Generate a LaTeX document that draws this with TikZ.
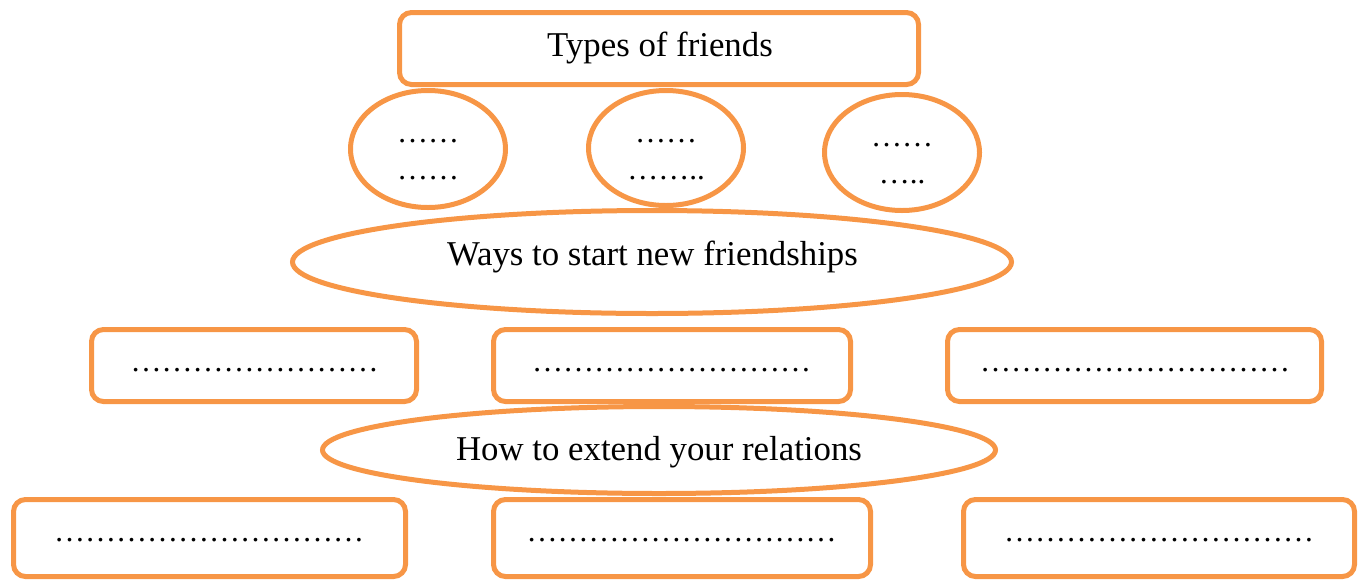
\documentclass[tikz,border=0pt]{standalone}
\usepackage{fontspec}
\setmainfont{Liberation Serif}
\usetikzlibrary{shapes.geometric}
\definecolor{accent}{HTML}{F79646}
\begin{document}
\begin{tikzpicture}[x=1pt,y=-1pt,
  frame/.style={draw=accent,line width=5pt,inner sep=0pt},
  rbox/.style={frame,rectangle,rounded corners=12pt},
  oval/.style={frame,ellipse},
  txt/.style={anchor=base,inner sep=0pt,font=\fontsize{34.8}{40}\selectfont},
  dots/.style={anchor=base,inner sep=0pt,font=\fontsize{31}{36}\selectfont},
]
\useasboundingbox (0,0) rectangle (1360,582);
% top box
\node[rbox,minimum width=519pt,minimum height=72pt] (types) at (659,48.5) {};
\node[txt] (typesT) at (660,56) {Types of friends};
% small ellipses
\node[oval,minimum width=155pt,minimum height=117pt] (e1) at (428,149) {};
\node[oval,minimum width=155pt,minimum height=115pt] (e2) at (666,148) {};
\node[oval,minimum width=155pt,minimum height=116pt] (e3) at (902,152.5) {};
\node[dots] (e1a) at (428,142) {……};
\node[dots] (e1b) at (428,179) {……};
\node[dots] (e2a) at (666,142) {……};
\node[dots] (e2b) at (666,179) {……..};
\node[dots] (e3a) at (902,146) {……};
\node[dots] (e3b) at (902,183) {…..};
% ways ellipse
\node[oval,minimum width=719pt,minimum height=103pt] (ways) at (652,262) {};
\node[txt] (waysT) at (652.5,265) {Ways to start new friendships};
% row 1 boxes
\node[rbox,minimum width=325pt,minimum height=72pt] (r1a) at (254,365.5) {};
\node[rbox,minimum width=357pt,minimum height=72pt] (r1b) at (672,365.5) {};
\node[rbox,minimum width=374pt,minimum height=72pt] (r1c) at (1134.5,365.5) {};
\node[dots] (r1aT) at (254.5,371) {……………………};
\node[dots] (r1bT) at (671.5,371) {………………………};
\node[dots] (r1cT) at (1135,371) {…………………………};
% how ellipse
\node[oval,minimum width=673pt,minimum height=87pt] (how) at (659,450) {};
\node[txt] (howT) at (659,460) {How to extend your relations};
% row 2 boxes
\node[rbox,minimum width=392pt,minimum height=77pt] (r2a) at (209.5,538) {};
\node[rbox,minimum width=377pt,minimum height=77pt] (r2b) at (682,538) {};
\node[rbox,minimum width=391pt,minimum height=77pt] (r2c) at (1159,538) {};
\node[dots] (r2aT) at (209,541) {…………………………};
\node[dots] (r2bT) at (681.5,541) {…………………………};
\node[dots] (r2cT) at (1159,541) {…………………………};
\end{tikzpicture}
\end{document}
